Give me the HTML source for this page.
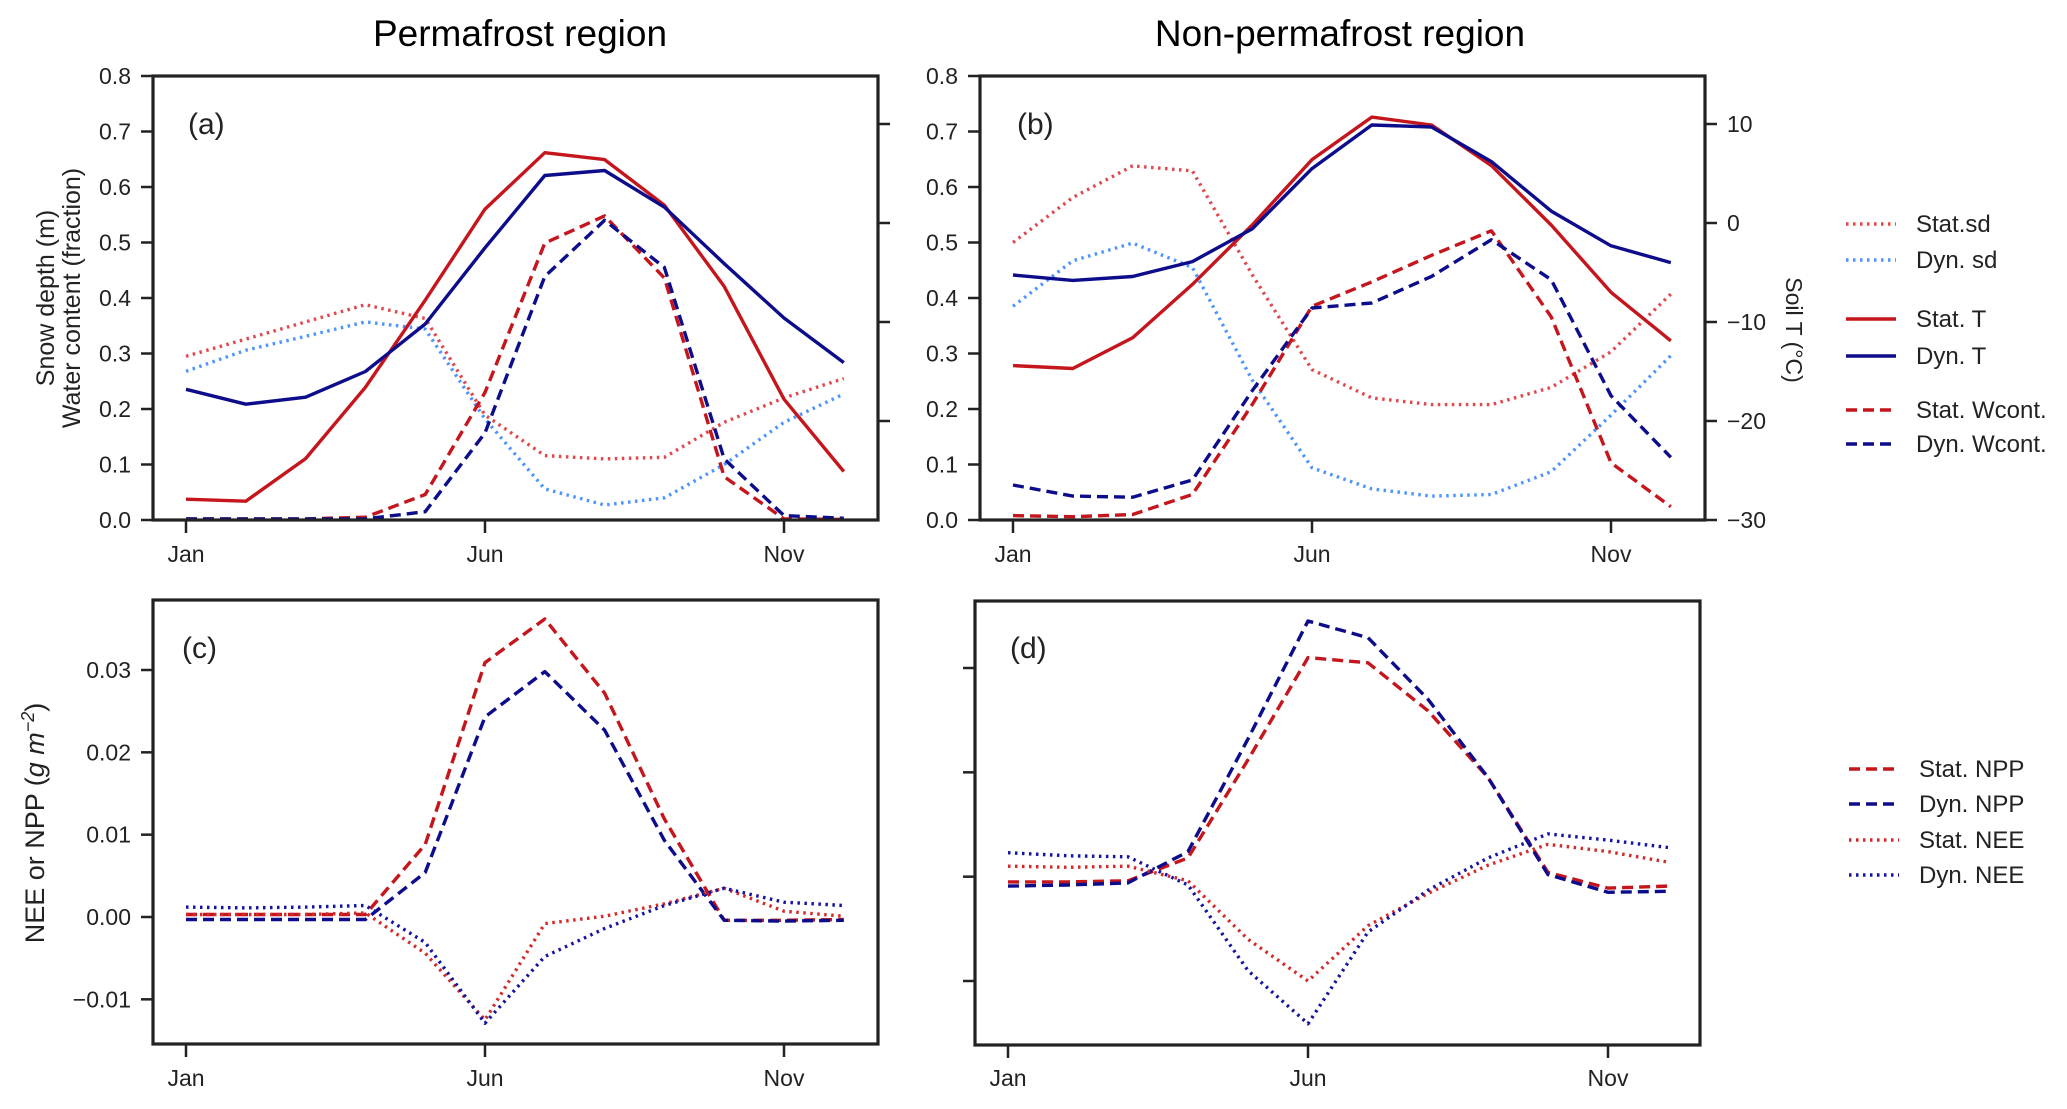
<!DOCTYPE html>
<html><head><meta charset="utf-8">
<style>
html,body{margin:0;padding:0;background:#fff;}
svg text{font-family:"Liberation Sans Narrow","Liberation Sans",sans-serif;fill:#222;}
.tick{font-size:23px;}
.title{font-family:"Liberation Sans",sans-serif;font-size:37px;fill:#000;}
</style></head>
<body>
<svg id="fig" width="2067" height="1104" viewBox="0 0 2067 1104" xmlns="http://www.w3.org/2000/svg">
<text class="title" x="520" y="46" text-anchor="middle">Permafrost region</text>
<text class="title" x="1340" y="46" text-anchor="middle">Non-permafrost region</text>
<g id="layer"></g>
</svg>
<script>
// ---- data ----
const months = ["Jan","Feb","Mar","Apr","May","Jun","Jul","Aug","Sep","Oct","Nov","Dec"];
const monthTicks = ["Jan","Jun","Nov"];
const leftTicksTop = [0.0,0.1,0.2,0.3,0.4,0.5,0.6,0.7,0.8];
const tempTicks = [10,0,-10,-20,-30];
const fluxTicksC = [-0.01,0.00,0.01,0.02,0.03];
const fluxTicksD = [0.00,0.01,0.02,0.03];

// panel (a) permafrost
const aStatSd = [0.295,0.326,0.357,0.388,0.363,0.189,0.116,0.110,0.113,0.176,0.220,0.255];
const aDynSd = [0.268,0.306,0.331,0.357,0.344,0.182,0.056,0.027,0.040,0.100,0.176,0.227];
const aStatT = [-27.9,-28.1,-23.8,-16.6,-7.8,1.4,7.1,6.4,1.8,-6.4,-17.8,-25.1];
const aDynT = [-16.8,-18.3,-17.6,-15.0,-10.2,-2.5,4.8,5.3,1.6,-4.1,-9.6,-14.1];
const aStatW = [0.002,0.002,0.002,0.005,0.046,0.230,0.499,0.548,0.436,0.078,0.002,0.001];
const aDynW = [0.002,0.002,0.002,0.002,0.015,0.157,0.439,0.540,0.455,0.110,0.008,0.003];
// panel (b) non-permafrost
const bStatSd = [0.500,0.581,0.638,0.629,0.442,0.271,0.220,0.208,0.208,0.239,0.303,0.407];
const bDynSd = [0.385,0.467,0.499,0.455,0.252,0.094,0.056,0.043,0.046,0.087,0.189,0.296];
const bStatT = [-14.4,-14.7,-11.6,-6.2,-0.2,6.4,10.7,9.9,5.8,-0.2,-7.0,-11.9];
const bDynT = [-5.25,-5.8,-5.4,-3.9,-0.6,5.5,9.9,9.7,6.2,1.2,-2.3,-4.0];
const bStatW = [0.008,0.006,0.010,0.046,0.208,0.385,0.429,0.477,0.521,0.366,0.103,0.024];
const bDynW = [0.063,0.043,0.041,0.072,0.233,0.382,0.391,0.439,0.505,0.433,0.224,0.113];
// panel (c) permafrost fluxes
const cStatNPP = [0.0003,0.0003,0.0003,0.0003,0.0088,0.0309,0.0362,0.0272,0.0119,-0.0004,-0.0004,-0.0003];
const cDynNPP = [-0.0003,-0.0003,-0.0003,-0.0003,0.0054,0.0243,0.0298,0.0227,0.0093,-0.0004,-0.0005,-0.0004];
const cStatNEE = [0.0003,0.0003,0.0003,0.0005,-0.0044,-0.0125,-0.0008,0.0001,0.0016,0.0035,0.0007,0.0001];
const cDynNEE = [0.0012,0.0011,0.0012,0.0014,-0.0031,-0.0129,-0.0048,-0.0014,0.0014,0.0035,0.0018,0.0014];
// panel (d) non-permafrost fluxes
const dStatNPP = [0.0095,0.0095,0.0096,0.0118,0.0212,0.0310,0.0305,0.0259,0.0195,0.0104,0.0089,0.0091];
const dDynNPP = [0.0091,0.0092,0.0094,0.0124,0.0232,0.0345,0.0329,0.0270,0.0195,0.0102,0.0085,0.0086];
const dStatNEE = [0.0110,0.0109,0.0110,0.0096,0.0040,0.0000,0.0053,0.0084,0.0111,0.0131,0.0124,0.0114];
const dDynNEE = [0.0123,0.0120,0.0119,0.0092,0.0010,-0.0041,0.0047,0.0087,0.0118,0.0141,0.0135,0.0128];

const NS="http://www.w3.org/2000/svg";
const layer=document.getElementById('layer');
function el(tag,attrs,parent){const e=document.createElementNS(NS,tag);for(const k in attrs)e.setAttribute(k,attrs[k]);(parent||layer).appendChild(e);return e;}

const RED="#c4161c", NAVY="#0d0d8c", LRED="#e0484c", LBLUE="#4d94ff";
const DASH="11 6", DOT="2.5 4.5";
const LW=3.4;

function makeX(jan,step){return i=>jan+i*step;}
function linY(v0,p0,v1,p1){return v=>p0+(v-v0)*(p1-p0)/(v1-v0);}

function frame(x0,y0,x1,y1,name){
  const r=el('rect',{x:x0,y:y0,width:x1-x0,height:y1-y0,fill:'none',stroke:'#222','stroke-width':3.2});
  
  
}
function xAxis(xs,y1,ty,name){
  const g=el('g',{});
  
  
  monthTicks.forEach(m=>{const i=months.indexOf(m);const x=xs(i);
    el('line',{x1:x,y1:y1,x2:x,y2:y1+13,stroke:'#222','stroke-width':2.5},g);
    const t=el('text',{x:x,y:ty,'text-anchor':'middle',class:'tick'},g);t.textContent=m;
    
    
  });
}
function yAxis(ticks,ys,xEdge,dir,labels,fmt,name){
  const g=el('g',{});
  
  
  ticks.forEach(v=>{const y=ys(v);
    el('line',{x1:xEdge,y1:y,x2:xEdge+dir*12,y2:y,stroke:'#222','stroke-width':2.5},g);
    if(labels){const t=el('text',{x:xEdge+dir*22,y:y+8,'text-anchor':dir<0?'end':'start',class:'tick'},g);t.textContent=fmt(v);
      
      }
  });
}
function series(vals,xs,ys,color,dash,w,name){
  const d=vals.map((v,i)=>(i?'L':'M')+xs(i).toFixed(1)+','+ys(v).toFixed(1)).join(' ');
  const p=el('path',{d:d,fill:'none',stroke:color,'stroke-width':w,'stroke-linejoin':'round'});
  if(dash)p.setAttribute('stroke-dasharray',dash);
  
  
}
function legend(items,x,name){
  const g=el('g',{});
  
  
  items.forEach(it=>{
    const l=el('line',{x1:x,y1:it.y,x2:x+50,y2:it.y,stroke:it.c,'stroke-width':LW},g);
    if(it.d)l.setAttribute('stroke-dasharray',it.d);
    const t=el('text',{x:x+70,y:it.y+8,class:'tick',style:'font-size:24px'},g);t.textContent=it.t;
    
    
  });
}

// ---- panel (a) ----
{
 const xs=makeX(186,59.8), ys=linY(0,520,0.8,76), ts=linY(-30,520,10,124);
 yAxis(leftTicksTop,ys,153,-1,true,v=>v.toFixed(1),'a-left-axis');
 yAxis([10,0,-10,-20],ts,878,1,false,v=>v,'a-right-axis');
 xAxis(xs,520,562,'a-x-axis');
 series(aStatSd,xs,ys,LRED,DOT,LW,'a-stat-sd');
 series(aDynSd,xs,ys,LBLUE,DOT,LW,'a-dyn-sd');
 series(aStatT,xs,ts,RED,null,LW,'a-stat-t');
 series(aDynT,xs,ts,NAVY,null,LW,'a-dyn-t');
 series(aStatW,xs,ys,RED,DASH,LW,'a-stat-wcont');
 series(aDynW,xs,ys,NAVY,DASH,LW,'a-dyn-wcont');
 frame(153,76,878,520,'a-frame');
 const t=el('text',{x:188,y:134,style:'font-size:30px'});t.textContent='(a)';
 
 const yl=el('text',{transform:'translate(54,298) rotate(-90)','text-anchor':'middle',style:'font-family:Liberation Sans,sans-serif;font-size:25px'});
 
 const s1=el('tspan',{x:0,y:0},yl);s1.textContent='Snow depth (m)';
 const s2=el('tspan',{x:0,y:26},yl);s2.textContent='Water content (fraction)';
}
// ---- panel (b) ----
{
 const xs=makeX(1013,59.8), ys=linY(0,520,0.8,76), ts=linY(-30,520,10,124);
 yAxis(leftTicksTop,ys,980,-1,true,v=>v.toFixed(1),'b-left-axis');
 yAxis(tempTicks,ts,1705,1,true,v=>v<0?'\u2212'+(-v):''+v,'b-right-axis');
 xAxis(xs,520,562,'b-x-axis');
 series(bStatSd,xs,ys,LRED,DOT,LW,'b-stat-sd');
 series(bDynSd,xs,ys,LBLUE,DOT,LW,'b-dyn-sd');
 series(bStatT,xs,ts,RED,null,LW,'b-stat-t');
 series(bDynT,xs,ts,NAVY,null,LW,'b-dyn-t');
 series(bStatW,xs,ys,RED,DASH,LW,'b-stat-wcont');
 series(bDynW,xs,ys,NAVY,DASH,LW,'b-dyn-wcont');
 frame(980,76,1705,520,'b-frame');
 const t=el('text',{x:1017,y:134,style:'font-size:30px'});t.textContent='(b)';
 
 const yl=el('text',{transform:'translate(1786,330) rotate(90)','text-anchor':'middle',style:'font-family:Liberation Sans,sans-serif;font-size:23px'});
 yl.textContent='Soil T (\u00B0C)';
 
 legend([{t:'Stat.sd',c:LRED,d:DOT,y:224},{t:'Dyn. sd',c:LBLUE,d:DOT,y:260},{t:'Stat. T',c:RED,d:null,y:319},{t:'Dyn. T',c:NAVY,d:null,y:356},{t:'Stat. Wcont.',c:RED,d:DASH,y:410},{t:'Dyn. Wcont.',c:NAVY,d:DASH,y:444}],1846,'legend-top');
}
// ---- panel (c) ----
{
 const xs=makeX(186,59.8), ys=linY(0,917,0.03,670);
 yAxis(fluxTicksC,ys,153,-1,true,v=>v<0?'\u2212'+(-v).toFixed(2):v.toFixed(2),'c-left-axis');
 xAxis(xs,1044,1086,'c-x-axis');
 series(cStatNPP,xs,ys,RED,DASH,LW,'c-stat-npp');
 series(cDynNPP,xs,ys,NAVY,DASH,LW,'c-dyn-npp');
 series(cStatNEE,xs,ys,"#d42a2a",DOT,LW,'c-stat-nee');
 series(cDynNEE,xs,ys,"#1414a0",DOT,LW,'c-dyn-nee');
 frame(153,600,878,1044,'c-frame');
 const t=el('text',{x:182,y:658,style:'font-size:30px'});t.textContent='(c)';
 
 const yl=el('text',{transform:'translate(44,823) rotate(-90)','text-anchor':'middle',style:'font-family:Liberation Sans,sans-serif;font-size:27px'});
 
 const a=el('tspan',{},yl);a.textContent='NEE or NPP (';
 const b=el('tspan',{'font-style':'italic'},yl);b.textContent='g m';
 const c=el('tspan',{'font-style':'italic',dy:-10,style:'font-size:18px'},yl);c.textContent='\u22122';
 const d=el('tspan',{dy:10},yl);d.textContent=')';
}
// ---- panel (d) ----
{
 const xs=makeX(1008,60), ys=linY(0,981,0.03,668);
 yAxis(fluxTicksD,ys,975,-1,false,v=>v,'d-left-axis');
 xAxis(xs,1045,1086,'d-x-axis');
 series(dStatNPP,xs,ys,RED,DASH,LW,'d-stat-npp');
 series(dDynNPP,xs,ys,NAVY,DASH,LW,'d-dyn-npp');
 series(dStatNEE,xs,ys,"#d42a2a",DOT,LW,'d-stat-nee');
 series(dDynNEE,xs,ys,"#1414a0",DOT,LW,'d-dyn-nee');
 frame(975,601,1700,1045,'d-frame');
 const t=el('text',{x:1010,y:658,style:'font-size:30px'});t.textContent='(d)';
 
 legend([{t:'Stat. NPP',c:RED,d:DASH,y:769},{t:'Dyn. NPP',c:NAVY,d:DASH,y:804},{t:'Stat. NEE',c:"#d42a2a",d:DOT,y:840},{t:'Dyn. NEE',c:"#1414a0",d:DOT,y:875}],1849,'legend-bottom');
}
</script>
</body></html>
